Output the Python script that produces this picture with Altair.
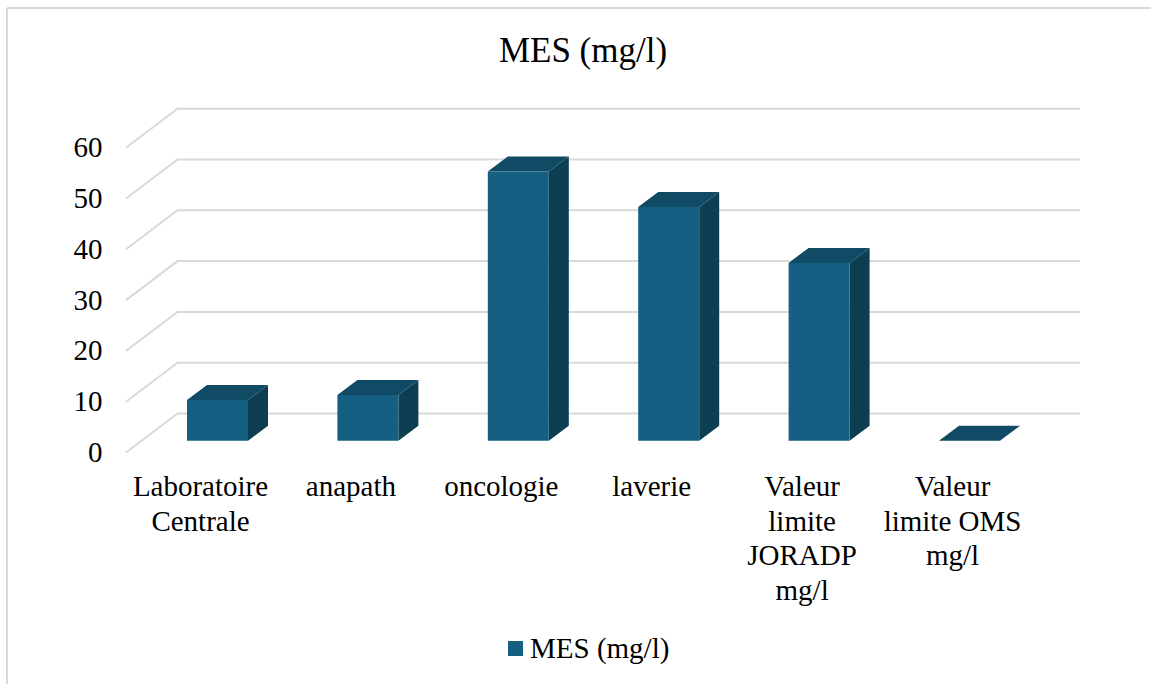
import altair as alt
import pandas as pd

# Chart content
categories = ["Laboratoire\nCentrale", "anapath", "oncologie", "laverie",
              "Valeur\nlimite\nJORADP\nmg/l", "Valeur\nlimite OMS\nmg/l"]
values = [8, 9, 53, 46, 35, 0]
y_ticks = [0, 10, 20, 30, 40, 50, 60]
series_name = "MES (mg/l)"

# Canvas layout, in pixels
W, H = 1151, 684
PAD_L, PAD_T = 7, 8
PLOT_W, PLOT_H = W - PAD_L, H - PAD_T
PX_PER_CAT = 150.4      # distance between neighbouring categories
PX_PER_UNIT = 5.08      # vertical pixels per mg/l
ORIGIN_X = 217.5 - PAD_L  # first category centre inside the plot
ORIGIN_Y = 452.5 - PAD_T  # front-plane zero inside the plot

# Oblique projection of the 3D box, expressed in scale units
BAR_W = 61 / PX_PER_CAT
BAR_DX = 20 / PX_PER_CAT
BAR_DY = 15 / PX_PER_UNIT
BAR_LIFT = 11.8 / PX_PER_UNIT
WALL_DX = 51.5 / PX_PER_CAT
WALL_DY = 39 / PX_PER_UNIT
GRID_LEFT = (126 - 217.5) / PX_PER_CAT
GRID_RIGHT = (1080 - 217.5) / PX_PER_CAT
LABEL_SHIFT = -17 / PX_PER_CAT

x_scale = alt.Scale(domain=[-ORIGIN_X / PX_PER_CAT, (PLOT_W - ORIGIN_X) / PX_PER_CAT],
                    nice=False, zero=False)
y_scale = alt.Scale(domain=[-(PLOT_H - ORIGIN_Y) / PX_PER_UNIT, ORIGIN_Y / PX_PER_UNIT],
                    nice=False, zero=False)

FONT = "Liberation Serif"
FRONT, TOP, SIDE = "#156082", "#114a64", "#0d3e52"
GRID = "#d9d9d9"

# Tables for each face of the boxes
front = pd.DataFrame({
    "cat": range(len(values)),
    "x0": [i - BAR_W / 2 for i in range(len(values))],
    "x1": [i + BAR_W / 2 for i in range(len(values))],
    "y0": BAR_LIFT,
    "y1": [v + BAR_LIFT for v in values],
    "serie": series_name,
})

side_rows, top_rows = [], []
for i, v in enumerate(values):
    xr = i + BAR_W / 2
    xl = i - BAR_W / 2
    for t in (0, 1):
        side_rows.append({"cat": i, "x": xr + t * BAR_DX,
                          "y": v + BAR_LIFT + t * BAR_DY,
                          "y2": BAR_LIFT + t * BAR_DY})
        top_rows.append({"cat": i, "y": v + BAR_LIFT + t * BAR_DY,
                         "x": xl + t * BAR_DX, "x2": xr + t * BAR_DX})
side = pd.DataFrame(side_rows)
top = pd.DataFrame(top_rows)

grid_rows = []
for tick in y_ticks:
    grid_rows += [
        {"tick": tick, "seq": 0, "x": GRID_LEFT, "y": tick},
        {"tick": tick, "seq": 1, "x": GRID_LEFT + WALL_DX, "y": tick + WALL_DY},
        {"tick": tick, "seq": 2, "x": GRID_RIGHT, "y": tick + WALL_DY},
    ]
grid = pd.DataFrame(grid_rows)

labels = pd.DataFrame({"x": [i + LABEL_SHIFT for i in range(len(categories))],
                       "text": categories})

X = alt.X("x:Q", scale=x_scale, axis=None)

# Chart frame: only its top and left edges fall inside the canvas
frame_top = alt.Chart(pd.DataFrame({"a": [0]})).mark_rule(color=GRID, strokeWidth=2).encode(
    x=alt.value(0), x2=alt.value(PLOT_W), y=alt.value(0))
frame_left = alt.Chart(pd.DataFrame({"a": [0]})).mark_rule(color=GRID, strokeWidth=2).encode(
    x=alt.value(0), y=alt.value(0), y2=alt.value(PLOT_H))

grid_layer = alt.Chart(grid).mark_line(color=GRID, strokeWidth=2).encode(
    x=X,
    y=alt.Y("y:Q", scale=y_scale,
            axis=alt.Axis(values=y_ticks, title=None, domain=False, ticks=False, grid=False,
                          offset=-95, labelFont=FONT, labelFontSize=29, labelColor="#000000",
                          labelPadding=0, labelOverlap=False, labelBaseline="middle")),
    detail="tick:N",
    order="seq:Q",
)

side_layer = alt.Chart(side).mark_area(color=SIDE).encode(
    x=X,
    y=alt.Y("y:Q", scale=y_scale, stack=None),
    y2="y2:Q",
    detail="cat:N",
)

top_layer = alt.Chart(top).mark_area(color=TOP, orient="horizontal").encode(
    y=alt.Y("y:Q", scale=y_scale),
    x=alt.X("x:Q", scale=x_scale, axis=None, stack=None),
    x2="x2:Q",
    detail="cat:N",
)

front_layer = alt.Chart(front).mark_bar(cornerRadius=0).encode(
    x=alt.X("x0:Q", scale=x_scale, axis=None),
    x2="x1:Q",
    y=alt.Y("y1:Q", scale=y_scale),
    y2="y0:Q",
    color=alt.Color("serie:N", scale=alt.Scale(range=[FRONT]),
                    legend=alt.Legend(title=None, orient="none",
                                      legendX=507 - PAD_L - 6, legendY=649 - PAD_T - 15,
                                      symbolType="square", symbolSize=225, symbolStrokeWidth=0,
                                      labelFont=FONT, labelFontSize=29, labelColor="#000000",
                                      labelOffset=0)),
)

label_layer = alt.Chart(labels).mark_text(
    font=FONT, fontSize=29, color="#000000", baseline="top", align="center",
    lineBreak="\n", lineHeight=34.5,
).encode(x=X, y=alt.value(473 - PAD_T), text="text:N")

chart = (
    alt.layer(frame_top, frame_left, grid_layer, side_layer, top_layer, front_layer, label_layer)
    .properties(
        width=PLOT_W,
        height=PLOT_H,
        padding={"left": PAD_L, "top": PAD_T, "right": 0, "bottom": 0},
        autosize=alt.AutoSizeParams(type="none"),
        title=alt.TitleParams(series_name, font=FONT, fontSize=35, fontWeight="normal",
                              color="#000000", anchor="middle", dx=4, dy=66),
    )
    .configure_view(stroke=None)
)

chart.save("out.html", embed_options={"renderer": "svg", "actions": False})
